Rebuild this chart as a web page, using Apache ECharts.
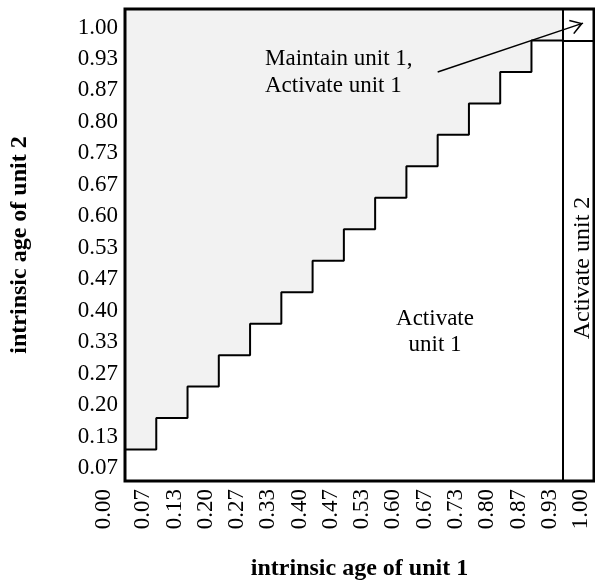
<!DOCTYPE html>
<html>
<head>
<meta charset="utf-8">
<script src="https://cdn.jsdelivr.net/npm/echarts@6/dist/echarts.min.js"></script>
<style>
html, body { margin: 0; padding: 0; background: #fff; }
#chart { width: 595px; height: 586px; }
</style>
</head>
<body>
<div id="chart"></div>
<script>
// tick labels, one per age state (index 0..15)
const xTickLabels = ['0.00', '0.07', '0.13', '0.20', '0.27', '0.33', '0.40', '0.47',
                     '0.53', '0.60', '0.67', '0.73', '0.80', '0.87', '0.93', '1.00'];
const yTickLabels = ['', '0.07', '0.13', '0.20', '0.27', '0.33', '0.40', '0.47',
                     '0.53', '0.60', '0.67', '0.73', '0.80', '0.87', '0.93', '1.00'];

// policy boundary (state index of unit 1 -> state index of unit 2)
const boundaryX = [0, 1, 2, 3, 4, 5, 6, 7, 8, 9, 10, 11, 12, 13, 14];
const boundaryY = [1, 2, 3, 4, 5, 6, 7, 8, 9, 10, 11, 12, 13, 14, 14];

// unit 2 gets activated from this state of unit 1
const unit2Threshold = 14;
const topBoxY = 14;

// arrow from the label to the top right box
const arrowFrom = [10, 13];
const arrowTo = [14.65, 14.55];

const FONT = "'Liberation Serif', 'Times New Roman', serif";

const chart = echarts.init(document.getElementById('chart'));

const boundaryData = boundaryX.map((x, i) => [x, boundaryY[i]]);

const option = {
  animation: false,
  grid: {
    left: 120.5, top: 9, right: 1, bottom: 102.5, z: 10,
    show: true, borderColor: '#000', borderWidth: 3,
    backgroundColor: 'transparent'
  },
  xAxis: {
    type: 'value', min: 0, max: 15, interval: 1,
    axisLine: { show: false }, axisTick: { show: false }, splitLine: { show: false },
    name: 'intrinsic age of unit 1',
    nameLocation: 'middle', nameGap: 76,
    nameTextStyle: { fontFamily: FONT, fontWeight: 'bold', fontSize: 24, color: '#000' },
    axisLabel: {
      rotate: 90, margin: 8, verticalAlign: 'bottom',
      showMinLabel: true, showMaxLabel: true,
      color: '#000', fontFamily: FONT, fontSize: 23,
      formatter: function (v) {
        return v === 0 ? '{z|' + xTickLabels[v] + '}' : '{a|' + xTickLabels[v] + '}';
      },
      rich: {
        a: { fontFamily: FONT, fontSize: 23, color: '#000', lineHeight: 26 },
        z: { fontFamily: FONT, fontSize: 23, color: '#000', lineHeight: 42 }
      }
    }
  },
  yAxis: {
    type: 'value', min: 0, max: 15, interval: 1,
    axisLine: { show: false }, axisTick: { show: false }, splitLine: { show: false },
    name: 'intrinsic age of unit 2',
    nameLocation: 'middle', nameRotate: 90, nameGap: 93,
    nameTextStyle: { fontFamily: FONT, fontWeight: 'bold', fontSize: 24, color: '#000' },
    axisLabel: {
      margin: 7, verticalAlign: 'top', lineHeight: 25, padding: [6, 0, 0, 0],
      showMinLabel: true, showMaxLabel: true,
      color: '#000', fontFamily: FONT, fontSize: 23,
      formatter: function (v) { return yTickLabels[v]; }
    }
  },
  graphic: [
    {
      type: 'text', x: 265, y: 72, z: 10,
      style: {
        text: 'Maintain unit 1,\nActivate unit 1',
        font: '23px ' + FONT, lineHeight: 27, fill: '#000',
        textAlign: 'left', textVerticalAlign: 'middle'
      }
    },
    {
      type: 'text', x: 435, y: 332, z: 10,
      style: {
        text: 'Activate\nunit 1',
        font: '23px ' + FONT, lineHeight: 26, fill: '#000',
        textAlign: 'center', textVerticalAlign: 'middle'
      }
    },
    {
      type: 'text', x: 582.5, y: 268, rotation: Math.PI / 2, z: 10,
      style: {
        text: 'Activate unit 2',
        font: '24px ' + FONT, fill: '#000',
        textAlign: 'center', textVerticalAlign: 'middle'
      }
    }
  ],
  series: [
    {
      type: 'line',
      step: 'end',
      data: boundaryData,
      symbol: 'none',
      lineStyle: { color: '#000', width: 2 },
      areaStyle: { color: '#f2f2f2', opacity: 1, origin: 'end' },
      markLine: {
        silent: true,
        symbol: 'none',
        label: { show: false },
        lineStyle: { color: '#000', width: 2, type: 'solid' },
        data: [
          { xAxis: unit2Threshold },
          [{ coord: [unit2Threshold, topBoxY] }, { coord: [15, topBoxY] }]
        ]
      }
    },
    {
      type: 'line',
      data: [],
      markLine: {
        silent: true,
        symbol: ['none', 'path://M0,0L7.6,11.7L6.3,12.6L0,2.9L-6.3,12.6L-7.6,11.7Z'],
        symbolSize: [15.2, 12.6],
        symbolOffset: [0, [0, 6.3]],
        label: { show: false },
        lineStyle: { color: '#000', width: 1.5, type: 'solid' },
        itemStyle: { color: '#000' },
        data: [
          [{ coord: arrowFrom }, { coord: arrowTo }]
        ]
      }
    }
  ]
};

chart.setOption(option);
</script>
</body>
</html>
